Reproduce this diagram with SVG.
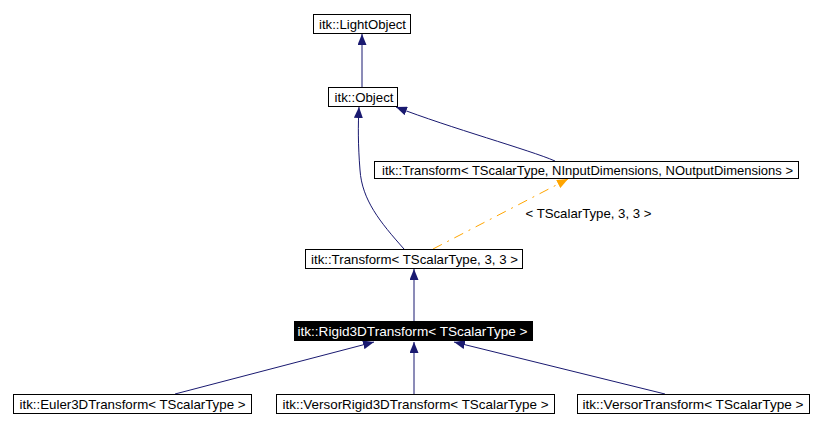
<svg xmlns="http://www.w3.org/2000/svg" width="822" height="427" viewBox="0 0 822 427">
<style>
.box{fill:#fff;stroke:#000;stroke-width:1}
.sel{fill:#000;stroke:#000;stroke-width:1}
text{font-family:"Liberation Sans",Arial,sans-serif;font-size:13px;fill:#000;text-anchor:middle}
.w{fill:#fff}
.e{fill:none;stroke:#191970;stroke-width:1}
.t{fill:none;stroke:#ffa500;stroke-width:1;stroke-dasharray:10,6,2,6}
</style>
<defs>
<marker id="an" markerUnits="userSpaceOnUse" markerWidth="12" markerHeight="9" refX="11" refY="4.5" orient="auto"><path d="M0,0 L11,4.5 L0,9 z" fill="#191970"/></marker>
<marker id="ao" markerUnits="userSpaceOnUse" markerWidth="12" markerHeight="9" refX="11" refY="4.5" orient="auto"><path d="M0,0 L11,4.5 L0,9 z" fill="#ffa500"/></marker>
</defs>
<rect width="822" height="427" fill="#fff"/>
<g id="edges">
<path class="e" d="M362,87 L362,34" marker-end="url(#an)"/>
<path class="e" d="M555,161 C530,150 450,128 396,107" marker-end="url(#an)"/>
<path class="e" d="M404,249 C380,222 362,200 360,170 C358,145 358,125 359,107" marker-end="url(#an)"/>
<path class="t" d="M433,249 L568,179" marker-end="url(#ao)"/>
<text x="588.5" y="218" textLength="126" lengthAdjust="spacingAndGlyphs">&lt; TScalarType, 3, 3 &gt;</text>
<path class="e" d="M414,321 L414,269" marker-end="url(#an)"/>
<path class="e" d="M175,394 L374,342" marker-end="url(#an)"/>
<path class="e" d="M414,394 L414,342" marker-end="url(#an)"/>
<path class="e" d="M665,394 L454,342" marker-end="url(#an)"/>
</g>
<g id="lightobject"><rect class="box" x="313.5" y="14.5" width="97" height="19"/><text x="362.5" y="28.5" textLength="87" lengthAdjust="spacingAndGlyphs">itk::LightObject</text></g>
<g id="object"><rect class="box" x="328.5" y="87.5" width="69" height="19"/><text x="364" y="101.5" textLength="59" lengthAdjust="spacingAndGlyphs">itk::Object</text></g>
<g id="transformN"><rect class="box" x="374.5" y="161.5" width="424" height="17"/><text x="587.5" y="174.5" textLength="411" lengthAdjust="spacingAndGlyphs">itk::Transform&lt; TScalarType, NInputDimensions, NOutputDimensions &gt;</text></g>
<g id="transform33"><rect class="box" x="305.5" y="249.5" width="217" height="19"/><text x="414.5" y="263.5" textLength="207" lengthAdjust="spacingAndGlyphs">itk::Transform&lt; TScalarType, 3, 3 &gt;</text></g>
<g id="rigid3d"><rect class="sel" x="294.5" y="321.5" width="238" height="19"/><text class="w" x="412.5" y="335.5" textLength="230" lengthAdjust="spacingAndGlyphs">itk::Rigid3DTransform&lt; TScalarType &gt;</text></g>
<g id="euler3d"><rect class="box" x="13.5" y="394.5" width="238" height="19"/><text x="132.5" y="408.5" textLength="226" lengthAdjust="spacingAndGlyphs">itk::Euler3DTransform&lt; TScalarType &gt;</text></g>
<g id="versorrigid3d"><rect class="box" x="276.5" y="394.5" width="278" height="19"/><text x="415.5" y="408.5" textLength="266" lengthAdjust="spacingAndGlyphs">itk::VersorRigid3DTransform&lt; TScalarType &gt;</text></g>
<g id="versor"><rect class="box" x="577.5" y="394.5" width="232" height="19"/><text x="693" y="408.5" textLength="221" lengthAdjust="spacingAndGlyphs">itk::VersorTransform&lt; TScalarType &gt;</text></g>
</svg>
